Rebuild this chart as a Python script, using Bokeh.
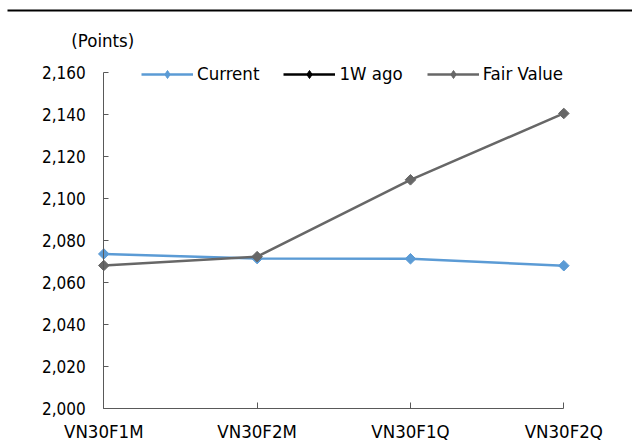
import math
from bokeh.plotting import figure
from bokeh.models import (FixedTicker, NumeralTickFormatter, Range1d, Legend, LegendItem,
                          Label, BoxAnnotation, Node)
from bokeh.embed import file_html
from bokeh.resources import INLINE

categories = ["VN30F1M", "VN30F2M", "VN30F1Q", "VN30F2Q"]
current = [2073.6, 2071.4, 2071.3, 2068.0]
week_ago = [float("nan")] * 4
fair_value = [2068.1, 2072.3, 2108.9, 2140.5]
y_ticks = [2000, 2020, 2040, 2060, 2080, 2100, 2120, 2140, 2160]
no_data = [float("nan")] * 4  # legend-only marker renderers

FONT = "DejaVu Sans Condensed"
FS = "18.5px"
FS_Y = "17px"
xs = list(range(len(categories)))

W, H = 632, 448
# pixel geometry of the axes box (y axis at x=103, last category at 563, 2160 at y=72, 2000 at y=408)
AX_L, AX_R, AX_T, AX_B = 103.3, 563.3, 72.0, 408.0
px_x = (AX_R - AX_L) / (len(categories) - 1)
px_y = (AX_B - AX_T) / (y_ticks[-1] - y_ticks[0])
x_start = -AX_L / px_x
x_end = (len(categories) - 1) + (W - AX_R) / px_x
y_start = y_ticks[0] - (H - AX_B) / px_y
y_end = y_ticks[-1] + AX_T / px_y

p = figure(width=W, height=H, output_backend="svg", toolbar_location=None,
           x_range=Range1d(x_start, x_end), y_range=Range1d(y_start, y_end),
           min_border_left=0, min_border_right=0, min_border_top=0, min_border_bottom=0)
p.outline_line_color = None
p.xgrid.visible = False
p.ygrid.visible = False
p.background_fill_color = "white"
p.border_fill_color = "white"

for ax in (p.xaxis[0], p.yaxis[0]):
    ax.axis_line_color = "#595959"
    ax.major_tick_line_color = "#595959"
    ax.minor_tick_line_color = None
    ax.major_tick_out = 0
    ax.major_label_text_font = FONT
    ax.major_label_text_color = "#000000"

p.xaxis.ticker = FixedTicker(ticks=xs)
p.xaxis.major_label_overrides = {i: c for i, c in enumerate(categories)}
p.xaxis.fixed_location = y_ticks[0]
p.xaxis.bounds = (0, len(categories) - 1)
p.xaxis.major_tick_in = 6
p.xaxis.major_label_standoff = 12
p.xaxis.major_label_text_font_size = FS

p.yaxis.ticker = FixedTicker(ticks=y_ticks)
p.yaxis.formatter = NumeralTickFormatter(format="0,0")
p.yaxis.fixed_location = 0
p.yaxis.bounds = (y_ticks[0], y_ticks[-1])
p.yaxis.major_tick_in = 5
p.yaxis.major_label_standoff = 18
p.yaxis.major_label_text_font_size = FS_Y

blue = "#5B9BD5"
gray = "#676767"
ang = math.pi / 4

r_cur_l = p.line(xs, current, line_color=blue, line_width=2.5)
p.scatter(xs, current, marker="square", size=7.5, angle=ang, fill_color=blue, line_color=blue)
r_wk_l = p.line(xs, week_ago, line_color="black", line_width=2.5)
p.scatter(xs, week_ago, marker="square", size=7.5, angle=ang, fill_color="black", line_color="black")
r_fv_l = p.line(xs, fair_value, line_color=gray, line_width=2.5)
p.scatter(xs, fair_value, marker="square", size=7.5, angle=ang, fill_color=gray, line_color=gray)

# legend-only diamond glyphs
l_cur = p.scatter(xs, no_data, marker="diamond", fill_color=blue, line_color=blue)
l_wk = p.scatter(xs, no_data, marker="diamond", fill_color="black", line_color="black")
l_fv = p.scatter(xs, no_data, marker="diamond", fill_color=gray, line_color=gray)

legend = Legend(items=[
    LegendItem(label="Current", renderers=[r_cur_l, l_cur]),
    LegendItem(label="1W ago", renderers=[r_wk_l, l_wk]),
    LegendItem(label="Fair Value", renderers=[r_fv_l, l_fv]),
], orientation="horizontal", location=(141, H - 73.3 - 11), padding=0, spacing=24,
    glyph_width=52, glyph_height=20, label_standoff=4, border_line_color=None,
    background_fill_alpha=0, label_text_font=FONT, label_text_font_size=FS,
    label_text_color="#000000", margin=0)
p.add_layout(legend)

p.add_layout(Label(x=102.3, y=H - 40, x_units="screen", y_units="screen", text="(Points)",
                   text_font=FONT, text_font_size=FS, text_align="center",
                   text_baseline="middle", text_color="#000000"))

p.add_layout(BoxAnnotation(left=Node(target="canvas", symbol="left", offset=7),
                           right=Node(target="canvas", symbol="right"),
                           top=Node(target="canvas", symbol="top", offset=9),
                           bottom=Node(target="canvas", symbol="top", offset=11),
                           fill_color="black", fill_alpha=1, line_color=None,
                           level="overlay"))

open("out.html", "w").write(file_html(p, INLINE))
